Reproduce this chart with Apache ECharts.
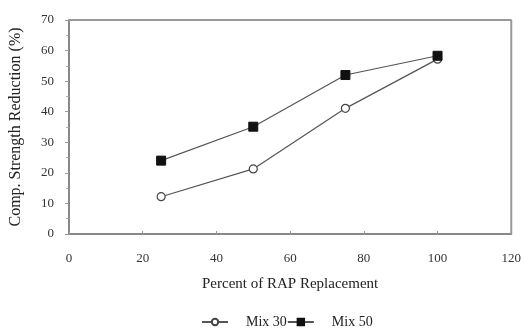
<!DOCTYPE html>
<html><head><meta charset="utf-8">
<script src="https://cdn.jsdelivr.net/npm/echarts@6/dist/echarts.min.js"></script>
<style>html,body{margin:0;padding:0;background:#fff}#c{width:524px;height:331px}</style>
</head><body><div id="c"></div>
<script>
const rapPercent = [25, 50, 75, 100];
const mix30 = [12.2, 21.3, 41.1, 57.2];
const mix50 = [24.0, 35.1, 52.0, 58.3];
const xTicks = [0, 20, 40, 60, 80, 100, 120];
const yTicks = [0, 10, 20, 30, 40, 50, 60, 70];

const font = 'Liberation Serif';
const chart = echarts.init(document.getElementById('c'), null, {renderer: 'canvas'});
chart.setOption({
  animation: false,
  textStyle: {fontFamily: font},
  grid: {left: 68, right: 12, top: 20, bottom: 97, containLabel: false, show: false},
  xAxis: {
    type: 'value', min: xTicks[0], max: xTicks[xTicks.length - 1], interval: 20,
    name: 'Percent of RAP Replacement', nameLocation: 'middle', nameGap: 43,
    nameTextStyle: {fontFamily: font, fontSize: 15, color: '#222'},
    axisLine: {show: true, lineStyle: {color: '#888', width: 2}},
    axisTick: {show: true, inside: true, length: 3, lineStyle: {color: '#999'}},
    axisLabel: {fontFamily: font, fontSize: 13, color: '#333', margin: 18},
    splitLine: {show: false}
  },
  yAxis: {
    type: 'value', min: yTicks[0], max: yTicks[yTicks.length - 1], interval: 10,
    name: 'Comp. Strength Reduction (%)', nameLocation: 'middle', nameGap: 45,
    nameTextStyle: {fontFamily: font, fontSize: 16, color: '#222'},
    axisLine: {show: true, lineStyle: {color: '#888', width: 2}},
    axisTick: {show: true, inside: false, length: 4, lineStyle: {color: '#999'}},
    minorTick: {show: true, splitNumber: 2, length: 3, lineStyle: {color: '#aaa'}},
    axisLabel: {fontFamily: font, fontSize: 13, color: '#333', margin: 15},
    splitLine: {show: false}
  },
  legend: {
    top: 310, left: 196, itemGap: 0, itemWidth: 26, itemHeight: 8,
    textStyle: {fontFamily: font, fontSize: 14, color: '#222', padding: [0, 0, 0, 13]},
    data: ['Mix 30', 'Mix 50']
  },
  series: [
    {
      name: 'Mix 30', type: 'line',
      data: rapPercent.map((x, i) => [x, mix30[i]]),
      symbol: 'circle', symbolSize: 8,
      lineStyle: {color: '#555', width: 1.2},
      itemStyle: {color: '#fff', borderColor: '#444', borderWidth: 1.2}
    },
    {
      name: 'Mix 50', type: 'line',
      data: rapPercent.map((x, i) => [x, mix50[i]]),
      symbol: 'rect', symbolSize: 9,
      lineStyle: {color: '#555', width: 1.2},
      itemStyle: {color: '#111', borderColor: '#111', borderWidth: 1}
    },
    {
      type: 'line', data: [[120, 0], [120, 70], [0, 70]], symbol: 'none', silent: true,
      lineStyle: {color: '#999', width: 2}, tooltip: {show: false}, legendHoverLink: false
    }
  ]
});
</script></body></html>
